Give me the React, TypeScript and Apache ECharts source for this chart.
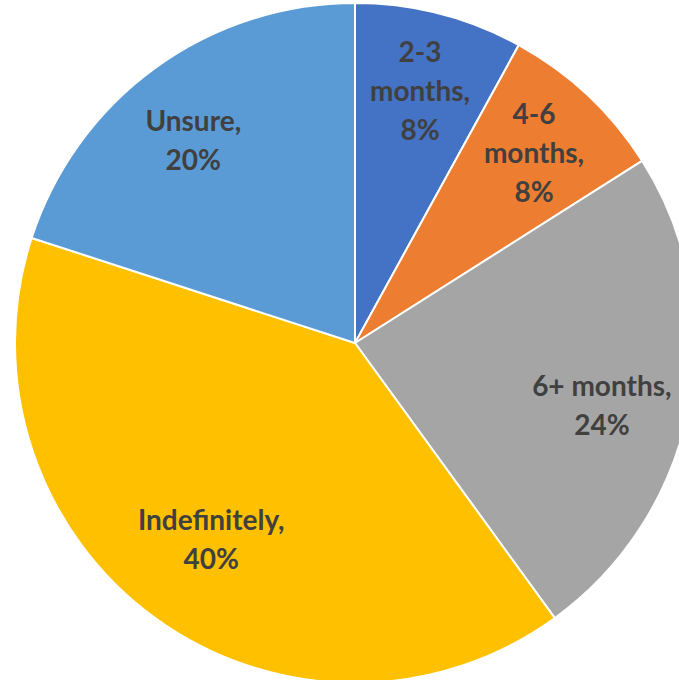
import React, { useEffect, useRef } from "react";
import * as echarts from "echarts";

const categories = ["2-3 months", "4-6 months", "6+ months", "Indefinitely", "Unsure"];
const values = [8, 8, 24, 40, 20];
const colors = ["#4472C4", "#ED7D31", "#A5A5A5", "#FFC000", "#5B9BD5"];
const labelOffsets = [[0, 0], [0, 0], [-10, 12], [10, -16], [-8, 8]];

export default function App() {
  const ref = useRef<HTMLDivElement>(null);
  useEffect(() => {
    if (!ref.current) return;
    const chart = echarts.init(ref.current, undefined, { renderer: "svg" });
    const data = categories.map((name, i) => ({
      name,
      value: values[i],
      itemStyle: { color: colors[i] },
    }));
    const labelData = categories.map((name, i) => ({
      name,
      value: values[i],
      label: { offset: labelOffsets[i] },
    }));
    chart.setOption({
      animation: false,
      backgroundColor: "#ffffff",
      series: [
        {
          type: "pie",
          center: [355, 343],
          radius: [0, 340],
          startAngle: 90,
          clockwise: true,
          silent: true,
          label: { show: false },
          labelLine: { show: false },
          itemStyle: { borderColor: "#ffffff", borderWidth: 2 },
          data,
        },
        {
          type: "pie",
          center: [355, 343],
          radius: [177, 340],
          startAngle: 90,
          clockwise: true,
          silent: true,
          itemStyle: { color: "rgba(0,0,0,0)", borderWidth: 0 },
          labelLine: { show: false },
          label: {
            show: true,
            position: "inside",
            color: "#404040",
            fontFamily: "Lato",
            fontWeight: "bold",
            fontSize: 28,
            lineHeight: 39,
            align: "center",
            formatter: (p: any) => {
              const nm = p.value < 10 ? p.name.replace(" ", "\n") : p.name;
              return nm + ",\n" + p.value + "%";
            },
          },
          data: labelData,
        },
      ],
    });
    return () => chart.dispose();
  }, []);
  return (
    <div
      ref={ref}
      style={{ position: "fixed", left: 0, top: 0, width: 679, height: 680 }}
    />
  );
}
